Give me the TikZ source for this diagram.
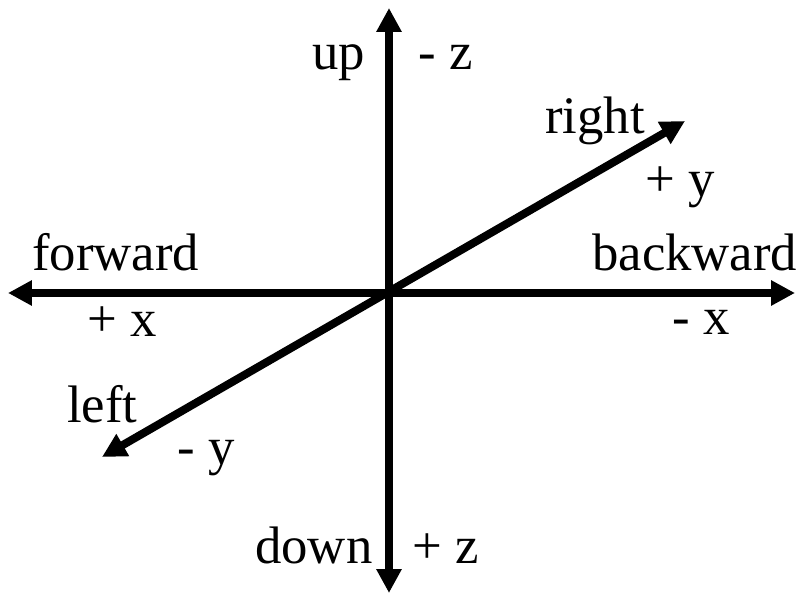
\documentclass[tikz,border=0pt]{standalone}
\usepackage{fontspec}
\setmainfont{Liberation Serif}
\usepackage{tikz}
\usetikzlibrary{arrows.meta, positioning}

\begin{document}
\begin{tikzpicture}[
    axis/.style={{Triangle[length=0.6cm, width=0.6cm]}-{Triangle[length=0.6cm, width=0.6cm]}, line width=0.2cm},
    dirlabel/.style={anchor=base west, inner sep=0pt, font=\fontsize{37.5}{44}\selectfont}
]

% Fix the page size
\useasboundingbox (-9.725,-7.55) rectangle (10.4,7.325);

% Define end points of the three axes
\coordinate (origin) at (0,0);
\coordinate (zneg) at (0,7.125);
\coordinate (zpos) at (0,-7.5);
\coordinate (xpos) at (-9.525,0);
\coordinate (xneg) at (10.15,0);
\coordinate (ypos) at (7.4,4.3);
\coordinate (yneg) at (-7.175,-4.1);

% Draw the axes
\draw[axis] (zpos) -- (zneg);
\draw[axis] (xpos) -- (xneg);
\draw[axis] (yneg) -- (ypos);

% Add direction labels
\node[dirlabel] (up) at (-1.925,5.575) {up};
\node[dirlabel] (upz) at (0.725,5.575) {- z};
\node[dirlabel] (right) at (3.9,3.975) {right};
\node[dirlabel] (righty) at (6.4,2.4) {+ y};
\node[dirlabel] (forward) at (-8.925,0.55) {forward};
\node[dirlabel] (forwardx) at (-7.55,-1.1) {+ x};
\node[dirlabel] (backward) at (5.075,0.55) {backward};
\node[dirlabel] (backwardx) at (7.075,-1.05) {- x};
\node[dirlabel] (left) at (-8.05,-3.225) {left};
\node[dirlabel] (lefty) at (-5.3,-4.3) {- y};
\node[dirlabel] (down) at (-3.35,-6.75) {down};
\node[dirlabel] (downz) at (0.575,-6.75) {+ z};

\end{tikzpicture}
\end{document}
